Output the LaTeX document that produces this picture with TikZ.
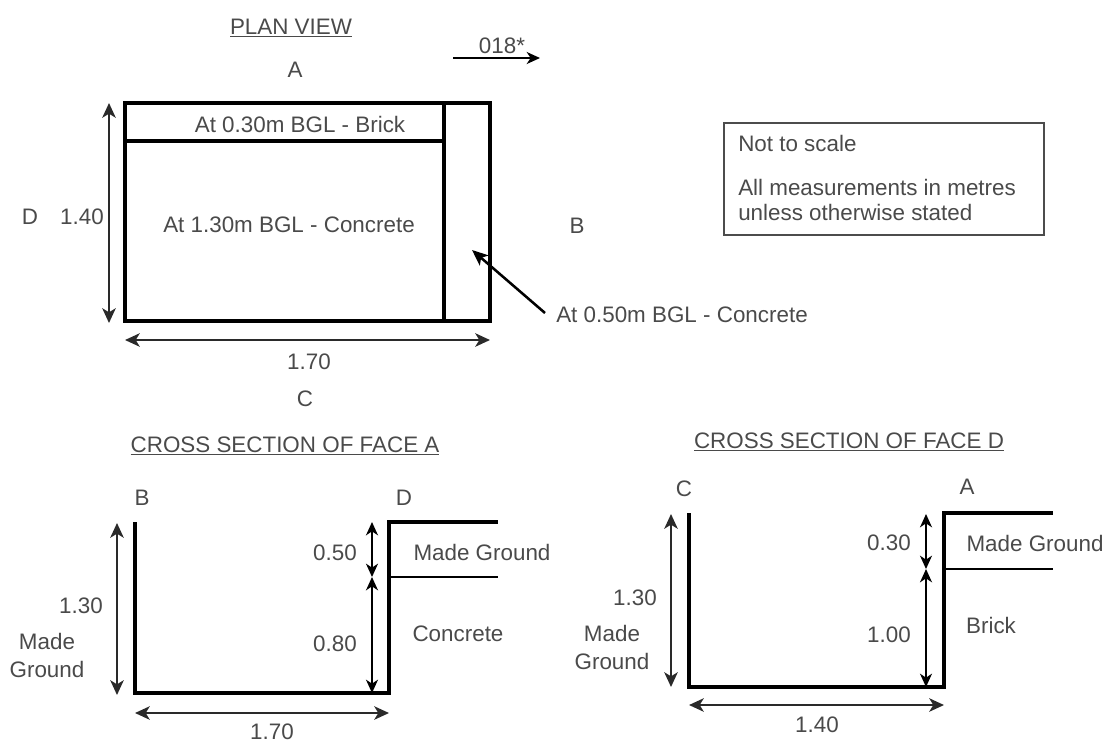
\documentclass[tikz,border=0pt]{standalone}
\usepackage{fontspec}
\setmainfont{Liberation Sans}
\usetikzlibrary{arrows.meta,positioning}
\definecolor{txtgrey}{HTML}{4A4A4A}
\definecolor{dimgrey}{HTML}{2A2A2A}
\tikzset{
  wall/.style={line width=2.8pt,black},
  thin wall/.style={line width=2pt,black},
  dim/.style={line width=2.1pt,dimgrey,{Stealth[length=11pt,width=10pt,inset=3pt]}-{Stealth[length=11pt,width=10pt,inset=3pt]}},
  small dim/.style={line width=1.4pt,black,{Stealth[length=10pt,width=9pt,inset=3pt]}-{Stealth[length=10pt,width=9pt,inset=3pt]}},
  lbl/.style={inner sep=0pt,text=txtgrey,font=\fontsize{16.8}{19}\selectfont},
  ttl/.style={lbl,font=\fontsize{16.8}{19}\selectfont}
}
\begin{document}
\begin{tikzpicture}[x=0.75pt,y=0.75pt,yscale=-1,xscale=1]
    \useasboundingbox (0,0) rectangle (1112,743);

    % Plan view
    \node [ttl] (plantitle) at (291,28) {\underline{PLAN VIEW}};
    \node [lbl] (bearing) at (502,46) {018*};
    \coordinate (bearingl) at (453,58);
    \coordinate (bearingr) at (540,58);
    \draw [line width=1.6pt,-{Stealth[length=10pt,width=9pt,inset=3pt]}] (bearingl) -- (bearingr);
    \node [lbl] (faceA) at (295,70) {A};
    \node [lbl] (faceB) at (577,226) {B};
    \node [lbl] (faceC) at (305,399) {C};
    \node [lbl] (faceD) at (30,217) {D};
    \node [lbl] (planH) at (82,217) {1.40};
    \node [lbl] (planW) at (309,362) {1.70};

    %Shape: Rectangle
    \draw [wall] (125,103) rectangle (490,321);
    \draw [wall] (444,103) -- (444,321);
    \draw [wall] (125,141) -- (444,141);
    \node [lbl] (brick) at (300,124) {At 0.30m BGL - Brick};
    \node [lbl] (concrete) at (289,225) {At 1.30m BGL - Concrete};
    \node [lbl,anchor=west] (concrete2) at (556,315) {At 0.50m BGL - Concrete};
    \coordinate (concretetip) at (472,250);
    \draw [line width=1.9pt,-{Stealth[length=12pt,width=10pt,inset=3pt]}] (545,313) -- (concretetip);
    \draw [dim] (109,103) -- (109,323);
    \draw [dim] (125,340) -- (490,340);

    % Note
    \node [draw=black!70,line width=1pt,minimum width=240pt,minimum height=84pt,inner sep=0pt] (notebox) at (884,179) {};
    \node [lbl,anchor=west] (note1) at (738,143) {Not to scale};
    \node [lbl,anchor=west] (note2) at (738,187) {All measurements in metres};
    \node [lbl,anchor=west] (note3) at (738,212) {unless otherwise stated};

    % Face A
    \node [ttl] (titleA) at (285,446) {\underline{CROSS SECTION OF FACE A}};
    \node [lbl] (a1) at (142,498) {B};
    \node [lbl] (a2) at (404,498) {D};
    \draw [wall] (135,522) -- (135,693) -- (389,693) -- (389,522) -- (498,522);
    \draw [thin wall] (389,577) -- (498,577);
    \draw [dim] (117,523) -- (117,695);
    \draw [small dim] (372,522) -- (372,577);
    \draw [small dim] (372,577) -- (372,693);
    \draw [dim] (135,713) -- (389,713);
    \node [lbl] (a3) at (81,606) {1.30};
    \node [lbl] (a4) at (47,658) {\begin{tabular}{@{}c@{}}Made\\[2pt]Ground\end{tabular}};
    \node [lbl] (a5) at (335,553) {0.50};
    \node [lbl] (a6) at (335,644) {0.80};
    \node [lbl] (a7) at (482,552) {Made Ground};
    \node [lbl] (a8) at (458,634) {Concrete};
    \node [lbl] (a9) at (272,732) {1.70};

    % Face D
    \node [ttl] (titleD) at (849,442) {\underline{CROSS SECTION OF FACE D}};
    \node [lbl] (d1) at (684,489) {C};
    \node [lbl] (d2) at (967,487) {A};
    \draw [wall] (689,513) -- (689,687) -- (944,687) -- (944,513) -- (1053,513);
    \draw [thin wall] (944,569) -- (1053,569);
    \draw [dim] (671,514) -- (671,687);
    \draw [small dim] (926,514) -- (926,569);
    \draw [small dim] (926,569) -- (926,687);
    \draw [dim] (689,705) -- (944,705);
    \node [lbl] (d3) at (635,598) {1.30};
    \node [lbl] (d4) at (612,650) {\begin{tabular}{@{}c@{}}Made\\[2pt]Ground\end{tabular}};
    \node [lbl] (d5) at (889,543) {0.30};
    \node [lbl] (d6) at (889,635) {1.00};
    \node [lbl] (d7) at (1035,543) {Made Ground};
    \node [lbl] (d8) at (991,625) {Brick};
    \node [lbl] (d9) at (817,725) {1.40};
\end{tikzpicture}
\end{document}
